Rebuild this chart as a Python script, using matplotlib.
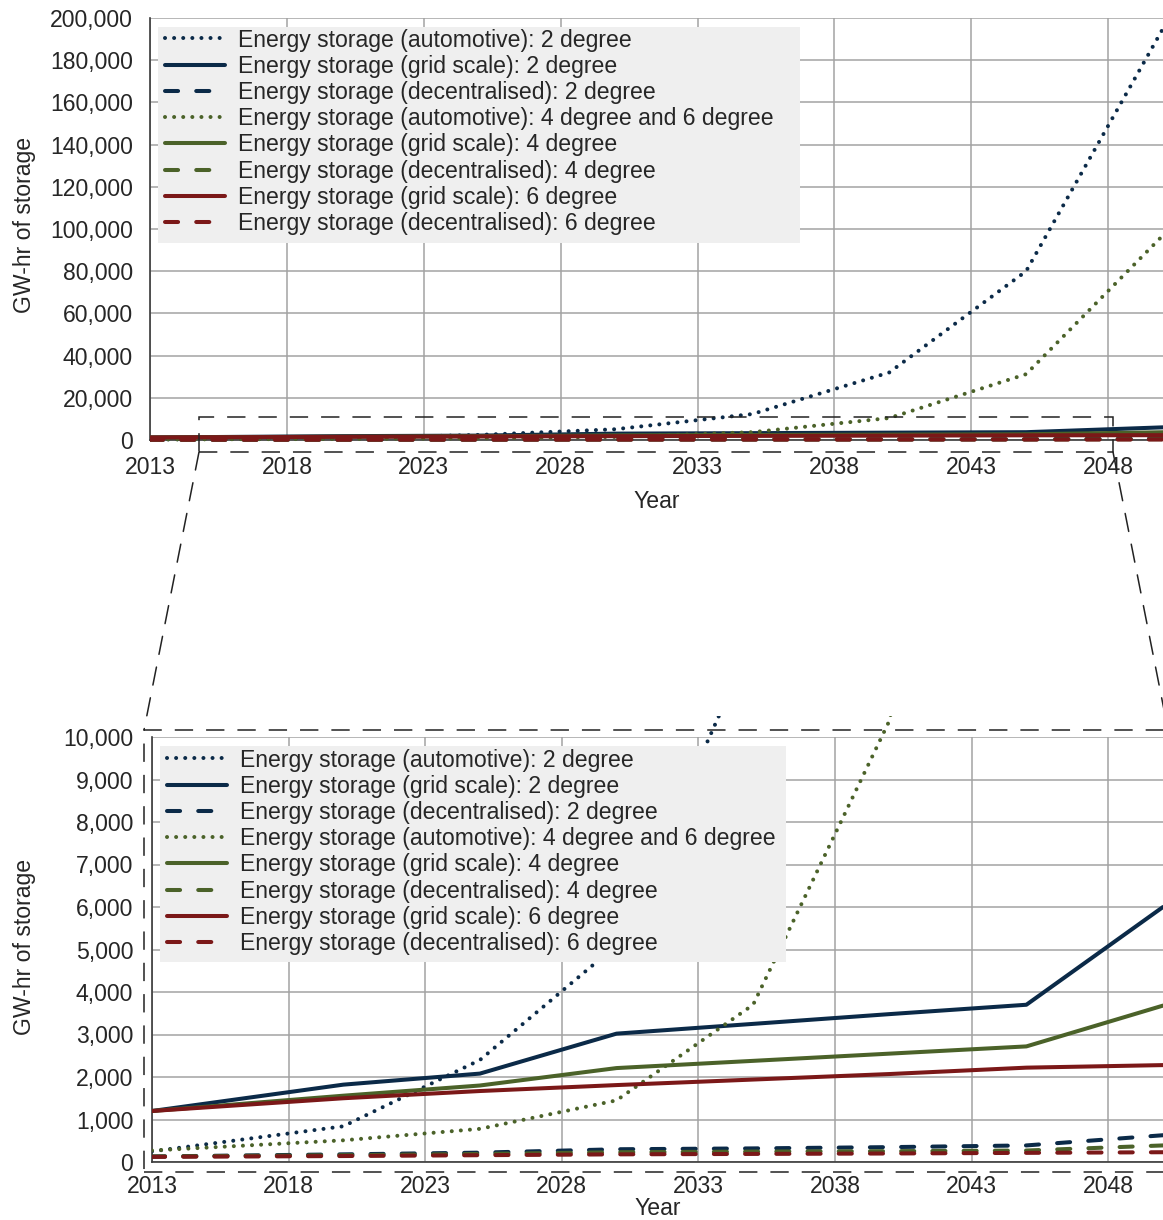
import matplotlib
matplotlib.use('Agg')
import matplotlib.pyplot as plt
from matplotlib.patches import Rectangle, ConnectionPatch
from matplotlib.ticker import FuncFormatter

# ---------------- data ----------------
years = [2013, 2020, 2025, 2030, 2035, 2040, 2045, 2050]
auto_2 = [250, 840, 2400, 5100, 12300, 32000, 80000, 195000]
grid_2 = [1200, 1820, 2080, 3020, 3250, 3480, 3700, 6000]
dec_2 = [130, 180, 220, 300, 320, 350, 390, 630]
auto_46 = [270, 510, 780, 1450, 3700, 10400, 31200, 97000]
grid_4 = [1200, 1560, 1800, 2210, 2380, 2550, 2720, 3680]
dec_4 = [130, 160, 190, 230, 245, 255, 270, 390]
grid_6 = [1200, 1500, 1670, 1810, 1940, 2070, 2220, 2280]
dec_6 = [120, 140, 160, 180, 190, 200, 215, 230]

labels = [
    "Energy storage (automotive): 2 degree",
    "Energy storage (grid scale): 2 degree",
    "Energy storage (decentralised): 2 degree",
    "Energy storage (automotive): 4 degree and 6 degree",
    "Energy storage (grid scale): 4 degree",
    "Energy storage (decentralised): 4 degree",
    "Energy storage (grid scale): 6 degree",
    "Energy storage (decentralised): 6 degree",
]
xticks = [2013, 2018, 2023, 2028, 2033, 2038, 2043, 2048]
yticks_top = list(range(0, 200001, 20000))
yticks_bot = list(range(0, 10001, 1000))

# ---------------- style ----------------
FS = 16.6
plt.rcParams['font.family'] = ['Liberation Sans', 'DejaVu Sans']
plt.rcParams['font.size'] = FS
TEXT = '#262626'
NAVY = '#0b2a48'
GREEN = '#4b6229'
RED = '#7b1818'
GRID = '#a3a3a3'
LW = 2.9
DOT = (0, (0.01, 2.25))
DASH = (0, (3.25, 4.5))

series = [
    (auto_2, NAVY, DOT), (grid_2, NAVY, '-'), (dec_2, NAVY, DASH),
    (auto_46, GREEN, DOT), (grid_4, GREEN, '-'), (dec_4, GREEN, DASH),
    (grid_6, RED, '-'), (dec_6, RED, DASH),
]

W, H = 1163, 1220
fig = plt.figure(figsize=(W / 100, H / 100), dpi=100)
ax1 = fig.add_axes([150 / W, (H - 440) / H, (W - 150) / W, 422 / H])
ax2 = fig.add_axes([152 / W, (H - 1162) / H, (W - 152) / W, 425 / H])

fmt = FuncFormatter(lambda v, p: f"{int(v):,}")


def draw(ax, ax_left, ax_bottom, ax_h, yt, clip_top, xpad, ypad, ylab_xy, xlab_y,
         box_px, leg_px):
    axw = W - ax_left
    fx = lambda px: (px - ax_left) / axw
    fy = lambda py: (ax_bottom - py) / ax_h
    clip = Rectangle((0, -0.05), 1, clip_top + 0.05, transform=ax.transAxes)
    for (vals, col, ls), lab in zip(series, labels):
        ln, = ax.plot(years, vals, color=col, lw=LW, ls=ls, label=lab,
                      dash_capstyle='round', solid_capstyle='round', zorder=3)
        ln.set_clip_path(clip)
    ax.set_xlim(2013, 2050)
    ax.set_ylim(yt[0], yt[-1])
    ax.set_xticks(xticks)
    ax.set_yticks(yt)
    ax.yaxis.set_major_formatter(fmt)
    ax.tick_params(axis='x', length=0, pad=xpad, colors=TEXT, labelsize=FS)
    ax.tick_params(axis='y', length=0, pad=ypad, colors=TEXT, labelsize=FS)
    ax.grid(True, color=GRID, lw=1.1, zorder=0)
    ax.set_axisbelow(True)
    for s in ['top', 'right']:
        ax.spines[s].set_visible(False)
    for s in ['left', 'bottom']:
        ax.spines[s].set_color('#3a3a3a')
        ax.spines[s].set_linewidth(1.2)
    ax.set_ylabel('GW-hr of storage', color=TEXT, fontsize=FS)
    ax.yaxis.set_label_coords(fx(ylab_xy[0]), fy(ylab_xy[1]))
    ax.set_xlabel('Year', color=TEXT, fontsize=FS)
    ax.xaxis.set_label_coords(0.5, xlab_y)
    # legend background box
    bx0, by0, bx1, by1 = box_px
    ax.add_patch(Rectangle((fx(bx0), fy(by1)), fx(bx1) - fx(bx0), fy(by0) - fy(by1),
                           transform=ax.transAxes, facecolor='#efefef',
                           edgecolor='none', zorder=5.5))
    leg = ax.legend(loc='upper left', bbox_to_anchor=(fx(leg_px[0]), fy(leg_px[1])),
                    frameon=False, borderpad=0.0, labelspacing=0.14,
                    handlelength=2.6, handletextpad=0.56, borderaxespad=0.0,
                    fontsize=FS)
    for t in leg.get_texts():
        t.set_color(TEXT)
    leg.set_zorder(6)


draw(ax1, 150, 440, 422, yticks_top, 1.0, 11.5, 12.5, (36, 225),
     (440 - 490) / 422, (158, 27, 800, 243), (165, 28.5))
draw(ax2, 152, 1162, 425, yticks_bot, 1.05, 9.5, 13.5, (36, 947),
     (1162 - 1197) / 425, (160, 746, 786, 962), (167, 748.5))

# ---------------- zoom indication ----------------
ZLS = (0, (12, 8.5))
ZC = '#222222'
x0 = (199 - 150) / (W - 150)
x1 = (1113 - 150) / (W - 150)
y0 = (440 - 452) / 422
y1 = (440 - 417) / 422
ax1.add_patch(Rectangle((x0, y0), x1 - x0, y1 - y0, transform=ax1.transAxes,
                        fill=False, ls=ZLS, lw=1.1, ec=ZC, clip_on=False, zorder=7))
bx0 = (144 - 152) / (W - 152)
bx1 = (1168 - 152) / (W - 152)
by0 = (1162 - 1172) / 425
by1 = (1162 - 730) / 425
ax2.add_patch(Rectangle((bx0, by0), bx1 - bx0, by1 - by0, transform=ax2.transAxes,
                        fill=False, ls=ZLS, lw=1.1, ec=ZC, clip_on=False, zorder=7))
for xa, xb in [(x0, bx0), (x1, bx1)]:
    cp = ConnectionPatch(xyA=(xa, y0), coordsA=ax1.transAxes,
                         xyB=(xb, by1), coordsB=ax2.transAxes,
                         ls=ZLS, lw=1.1, color=ZC)
    fig.add_artist(cp)

fig.savefig('out.png', dpi=100)
